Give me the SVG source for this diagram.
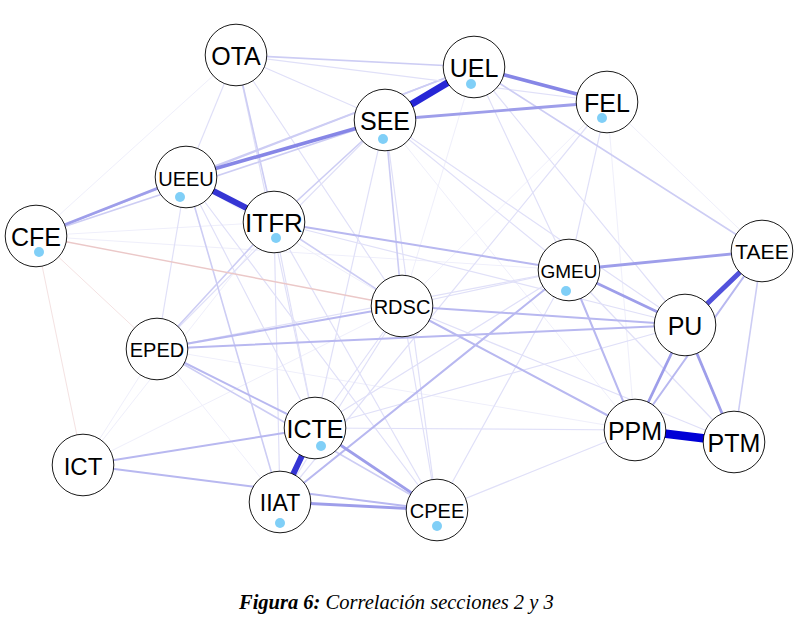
<svg xmlns="http://www.w3.org/2000/svg" width="812" height="620" viewBox="0 0 812 620">
<style>
.bg{fill:#ffffff}
line{stroke-linecap:round}
.e0{stroke:#efeffb;stroke-width:1}
.e1{stroke:#e0e0f8;stroke-width:1.2}
.e2{stroke:#cdcdf4;stroke-width:1.6}
.e3{stroke:#b8b8f0;stroke-width:2}
.e4{stroke:#9e9eea;stroke-width:2.8}
.e5{stroke:#8686e6;stroke-width:3.6}
.e6{stroke:#5252dc;stroke-width:5}
.e7{stroke:#3535d4;stroke-width:6}
.e8{stroke:#2626d6;stroke-width:7}
.e9{stroke:#0000d6;stroke-width:8.5}
.n1{stroke:#ebc8c8;stroke-width:1.4}
.n0{stroke:#f4e2e2;stroke-width:1}
.node circle.c{fill:#ffffff;stroke:#000000;stroke-width:0.9}
.node circle.d{fill:#80cff7;stroke:none}
.node text{font-family:"Liberation Sans",Arial,sans-serif;fill:#000000;text-anchor:middle}
.cap{font-family:"Liberation Serif","Times New Roman",serif;font-style:italic;font-size:20.5px;fill:#000000}
</style>
<rect class="bg" x="0" y="0" width="812" height="620"/>
<g id="edges">
<line class="e0" x1="83" y1="465" x2="157" y2="349"/>
<line class="e0" x1="83" y1="465" x2="274" y2="222"/>
<line class="e0" x1="83" y1="465" x2="402" y2="306"/>
<line class="e0" x1="607" y1="102" x2="762" y2="251"/>
<line class="e0" x1="607" y1="102" x2="635" y2="430"/>
<line class="e0" x1="607" y1="102" x2="402" y2="306"/>
<line class="e0" x1="36" y1="236" x2="274" y2="222"/>
<line class="e0" x1="157" y1="349" x2="280" y2="502"/>
<line class="e0" x1="157" y1="349" x2="635" y2="430"/>
<line class="e0" x1="186" y1="177" x2="402" y2="306"/>
<line class="e0" x1="474" y1="67" x2="402" y2="306"/>
<line class="e0" x1="236" y1="55" x2="36" y2="236"/>
<line class="e0" x1="385" y1="120" x2="635" y2="430"/>
<line class="e0" x1="36" y1="236" x2="569" y2="270"/>
<line class="e1" x1="236" y1="55" x2="186" y2="177"/>
<line class="e1" x1="236" y1="55" x2="385" y2="120"/>
<line class="e1" x1="236" y1="55" x2="402" y2="306"/>
<line class="e1" x1="236" y1="55" x2="315" y2="428"/>
<line class="e1" x1="186" y1="177" x2="315" y2="428"/>
<line class="e1" x1="186" y1="177" x2="437" y2="510"/>
<line class="e1" x1="186" y1="177" x2="157" y2="349"/>
<line class="e1" x1="274" y1="222" x2="315" y2="428"/>
<line class="e1" x1="274" y1="222" x2="280" y2="502"/>
<line class="e1" x1="274" y1="222" x2="437" y2="510"/>
<line class="e1" x1="274" y1="222" x2="685" y2="325"/>
<line class="e1" x1="157" y1="349" x2="569" y2="270"/>
<line class="e1" x1="157" y1="349" x2="385" y2="120"/>
<line class="e1" x1="402" y1="306" x2="315" y2="428"/>
<line class="e1" x1="402" y1="306" x2="569" y2="270"/>
<line class="e1" x1="402" y1="306" x2="734" y2="442"/>
<line class="e1" x1="402" y1="306" x2="280" y2="502"/>
<line class="e1" x1="315" y1="428" x2="569" y2="270"/>
<line class="e1" x1="315" y1="428" x2="685" y2="325"/>
<line class="e1" x1="315" y1="428" x2="635" y2="430"/>
<line class="e1" x1="437" y1="510" x2="635" y2="430"/>
<line class="e1" x1="437" y1="510" x2="385" y2="120"/>
<line class="e1" x1="437" y1="510" x2="402" y2="306"/>
<line class="e1" x1="437" y1="510" x2="569" y2="270"/>
<line class="e1" x1="607" y1="102" x2="569" y2="270"/>
<line class="e1" x1="607" y1="102" x2="280" y2="502"/>
<line class="e1" x1="385" y1="120" x2="569" y2="270"/>
<line class="e1" x1="385" y1="120" x2="315" y2="428"/>
<line class="e1" x1="474" y1="67" x2="569" y2="270"/>
<line class="e1" x1="474" y1="67" x2="685" y2="325"/>
<line class="e1" x1="569" y1="270" x2="734" y2="442"/>
<line class="e1" x1="385" y1="120" x2="685" y2="325"/>
<line class="e2" x1="186" y1="177" x2="474" y2="67"/>
<line class="e2" x1="36" y1="236" x2="385" y2="120"/>
<line class="e2" x1="36" y1="236" x2="474" y2="67"/>
<line class="e2" x1="762" y1="251" x2="734" y2="442"/>
<line class="e2" x1="157" y1="349" x2="437" y2="510"/>
<line class="e1" x1="236" y1="55" x2="607" y2="102"/>
<line class="e2" x1="236" y1="55" x2="274" y2="222"/>
<line class="e2" x1="474" y1="67" x2="762" y2="251"/>
<line class="e2" x1="385" y1="120" x2="402" y2="306"/>
<line class="e2" x1="186" y1="177" x2="280" y2="502"/>
<line class="e2" x1="274" y1="222" x2="402" y2="306"/>
<line class="e2" x1="274" y1="222" x2="157" y2="349"/>
<line class="e2" x1="385" y1="120" x2="274" y2="222"/>
<line class="e2" x1="474" y1="67" x2="385" y2="120"/>
<line class="e3" x1="762" y1="251" x2="635" y2="430"/>
<line class="e3" x1="83" y1="465" x2="437" y2="510"/>
<line class="e3" x1="83" y1="465" x2="315" y2="428"/>
<line class="e3" x1="274" y1="222" x2="569" y2="270"/>
<line class="e3" x1="402" y1="306" x2="157" y2="349"/>
<line class="e3" x1="157" y1="349" x2="685" y2="325"/>
<line class="e3" x1="402" y1="306" x2="685" y2="325"/>
<line class="e3" x1="402" y1="306" x2="635" y2="430"/>
<line class="e3" x1="280" y1="502" x2="569" y2="270"/>
<line class="e2" x1="236" y1="55" x2="474" y2="67"/>
<line class="e3" x1="569" y1="270" x2="635" y2="430"/>
<line class="e3" x1="157" y1="349" x2="315" y2="428"/>
<line class="n1" x1="36" y1="236" x2="402" y2="306"/>
<line class="n0" x1="36" y1="236" x2="157" y2="349"/>
<line class="n0" x1="36" y1="236" x2="83" y2="465"/>
<line class="e4" x1="385" y1="120" x2="607" y2="102"/>
<line class="e4" x1="36" y1="236" x2="186" y2="177"/>
<line class="e4" x1="569" y1="270" x2="762" y2="251"/>
<line class="e4" x1="569" y1="270" x2="685" y2="325"/>
<line class="e4" x1="685" y1="325" x2="635" y2="430"/>
<line class="e4" x1="685" y1="325" x2="734" y2="442"/>
<line class="e4" x1="315" y1="428" x2="437" y2="510"/>
<line class="e4" x1="280" y1="502" x2="437" y2="510"/>
<line class="e5" x1="474" y1="67" x2="607" y2="102"/>
<line class="e5" x1="186" y1="177" x2="385" y2="120"/>
<line class="e6" x1="762" y1="251" x2="685" y2="325"/>
<line class="e7" x1="186" y1="177" x2="274" y2="222"/>
<line class="e7" x1="315" y1="428" x2="280" y2="502"/>
<line class="e8" x1="385" y1="120" x2="474" y2="67"/>
<line class="e9" x1="635" y1="430" x2="734" y2="442"/>
</g>
<g id="OTA" class="node"><circle class="c" cx="236" cy="55" r="30.8"/><text x="236" y="65" font-size="25">OTA</text></g>
<g id="UEL" class="node"><circle class="c" cx="474" cy="67" r="30.8"/><circle class="d" cx="471" cy="84" r="5"/><text x="474" y="77" font-size="25">UEL</text></g>
<g id="FEL" class="node"><circle class="c" cx="607" cy="102" r="30.8"/><circle class="d" cx="602" cy="118" r="5"/><text x="607" y="112" font-size="25">FEL</text></g>
<g id="SEE" class="node"><circle class="c" cx="385" cy="120" r="30.8"/><circle class="d" cx="383" cy="139" r="5"/><text x="385" y="130" font-size="25">SEE</text></g>
<g id="UEEU" class="node"><circle class="c" cx="186" cy="177" r="30.8"/><circle class="d" cx="180" cy="197" r="5"/><text x="186" y="186" font-size="20">UEEU</text></g>
<g id="ITFR" class="node"><circle class="c" cx="274" cy="222" r="30.8"/><circle class="d" cx="276" cy="238" r="5"/><text x="274" y="232" font-size="26">ITFR</text></g>
<g id="CFE" class="node"><circle class="c" cx="36" cy="236" r="30.8"/><circle class="d" cx="39" cy="252" r="5"/><text x="36" y="246" font-size="25">CFE</text></g>
<g id="GMEU" class="node"><circle class="c" cx="569" cy="270" r="30.8"/><circle class="d" cx="566" cy="291" r="5"/><text x="569" y="278" font-size="19">GMEU</text></g>
<g id="TAEE" class="node"><circle class="c" cx="762" cy="251" r="30.8"/><text x="762" y="259" font-size="21">TAEE</text></g>
<g id="RDSC" class="node"><circle class="c" cx="402" cy="306" r="30.8"/><text x="402" y="314" font-size="20">RDSC</text></g>
<g id="PU" class="node"><circle class="c" cx="685" cy="325" r="30.8"/><text x="685" y="335" font-size="25">PU</text></g>
<g id="EPED" class="node"><circle class="c" cx="157" cy="349" r="30.8"/><text x="157" y="357" font-size="20">EPED</text></g>
<g id="ICTE" class="node"><circle class="c" cx="315" cy="428" r="30.8"/><circle class="d" cx="321" cy="446" r="5"/><text x="315" y="438" font-size="25">ICTE</text></g>
<g id="PPM" class="node"><circle class="c" cx="635" cy="430" r="30.8"/><text x="635" y="440" font-size="25">PPM</text></g>
<g id="PTM" class="node"><circle class="c" cx="734" cy="442" r="30.8"/><text x="734" y="452" font-size="25">PTM</text></g>
<g id="ICT" class="node"><circle class="c" cx="83" cy="465" r="30.8"/><text x="83" y="475" font-size="24">ICT</text></g>
<g id="IIAT" class="node"><circle class="c" cx="280" cy="502" r="30.8"/><circle class="d" cx="280" cy="523" r="5"/><text x="280" y="511" font-size="23">IIAT</text></g>
<g id="CPEE" class="node"><circle class="c" cx="437" cy="510" r="30.8"/><circle class="d" cx="437" cy="526" r="5"/><text x="437" y="518" font-size="20">CPEE</text></g>
<text class="cap" x="239" y="609"><tspan font-weight="bold">Figura 6:</tspan> Correlación secciones 2 y 3</text>
</svg>
